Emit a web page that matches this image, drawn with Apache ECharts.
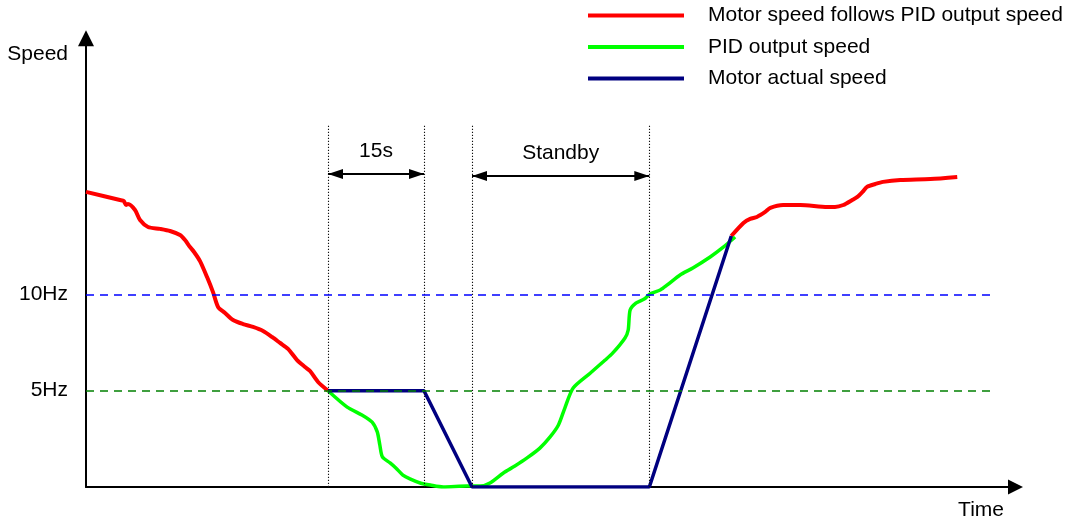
<!DOCTYPE html>
<html>
<head>
<meta charset="utf-8">
<script src="https://cdn.jsdelivr.net/npm/echarts@6/dist/echarts.min.js"></script>
<style>html,body{margin:0;padding:0;background:#fff;}#c{width:1076px;height:517px;}</style>
</head>
<body>
<div id="c"></div>
<script>
// ---- data (time in s, speed in Hz) ----
const seriesNames = ['Motor speed follows PID output speed', 'PID output speed', 'Motor actual speed'];
const seriesColors = ['#ff0000', '#00ff00', '#000080'];

const followBefore = [[0,15.32],[5.3,14.9],[5.9,14.85],[6.25,14.64],[6.56,14.69],[7.66,14.38],[8.44,13.86],[9.69,13.5],[11.56,13.4],[13.13,13.29],[14.69,13.08],[15.47,12.82],[16.25,12.46],[16.88,12.2],[17.81,11.73],[18.91,10.9],[19.84,10.12],[20.63,9.35],[21.72,9.03],[22.97,8.67],[24.53,8.46],[26.09,8.31],[27.66,8.1],[29.06,7.79],[30.31,7.48],[31.56,7.17],[32.97,6.59],[34.22,6.23],[35.0,6.02],[36.25,5.45],[37.8,5.0]];
const followAfter = [[100.8,13.03],[102.7,13.71],[103.75,13.92],[104.8,14.02],[106.1,14.28],[106.9,14.49],[108.9,14.64],[111.6,14.64],[115.8,14.54],[117.0,14.54],[118.3,14.64],[119.7,14.9],[120.5,15.06],[121.3,15.32],[122.0,15.58],[123.3,15.73],[124.5,15.84],[127.2,15.94],[131.9,15.99],[136.1,16.1]];
const pidOutput = [[37.8,5.0],[40.8,4.15],[43.1,3.74],[44.7,3.37],[45.5,2.86],[45.9,2.18],[46.3,1.56],[47.5,1.25],[48.4,0.99],[49.5,0.62],[50.6,0.42],[52.2,0.21],[53.8,0.1],[55.8,0.0],[59.5,0.05],[61.6,0.05],[63.1,0.21],[65.2,0.73],[67.0,1.09],[68.9,1.51],[70.9,2.02],[72.5,2.6],[73.8,3.22],[74.8,4.1],[76.1,5.14],[78.8,5.92],[81.1,6.59],[82.3,6.96],[84.2,7.74],[84.7,8.15],[85.0,9.19],[85.9,9.55],[87.2,9.76],[88.1,10.02],[89.7,10.23],[90.8,10.49],[92.8,11.01],[94.8,11.37],[97.5,11.94],[99.4,12.41],[101.4,12.98]];
const motorActual = [[37.8,5.0],[52.8,5.0],[60.3,0.0],[88.0,0.0],[100.8,13.03]];

const refLevels = [10, 5];
const refLabels = ['10Hz', '5Hz'];
const refColors = ['#0000ff', '#008000'];
const refEnd = 141.25;
const markerTimes = [37.8, 52.8, 60.3, 88.0];
const markerTop = 18.8;
const spans = [
  {label: '15s', from: 37.8, to: 52.8, level: 16.25},
  {label: 'Standby', from: 60.3, to: 88.0, level: 16.15}
];
const xMax = 145.2, yMax = 23.3;

const FONT = '"Liberation Sans", Arial, sans-serif';
const chart = echarts.init(document.getElementById('c'), null, {renderer: 'canvas'});

const guideLines = [];
markerTimes.forEach(t => guideLines.push([{coord: [t, 0], lineStyle: {color: '#111', width: 1.1, type: [1.2, 1.8]}}, {coord: [t, markerTop]}]));
refLevels.forEach((v, i) => guideLines.push([{coord: [0, v], lineStyle: {color: refColors[i], width: 1.6, type: [8, 6]}}, {coord: [refEnd, v]}]));

const spanLines = spans.map(s => [{coord: [s.from, s.level], name: s.label}, {coord: [s.to, s.level]}]);

function lineSeries(name, data, color, width) {
  return {
    type: 'line', name: name, data: data, showSymbol: false, symbol: 'none', smooth: 0.25,
    lineStyle: {color: color, width: width}, itemStyle: {color: color}, silent: true
  };
}

chart.setOption({
  animation: false,
  backgroundColor: '#fff',
  textStyle: {fontFamily: FONT},
  grid: {left: 86, right: 60.5, top: 38.2, bottom: 30, containLabel: false, outerBoundsMode: 'none'},
  legend: {
    data: seriesNames, orient: 'vertical', left: 588, top: 5, itemGap: 10.5, padding: 0,
    icon: 'rect', itemWidth: 96, itemHeight: 4, selectedMode: false,
    textStyle: {fontSize: 21, color: '#000', fontFamily: FONT, padding: [0, 0, 0, 19]}
  },
  xAxis: {
    type: 'value', min: 0, max: xMax,
    name: 'Time', nameLocation: 'end', nameGap: -11.5,
    nameTextStyle: {fontSize: 21, color: '#000', fontFamily: FONT, align: 'right', verticalAlign: 'top', padding: [13, 0, 0, 0]},
    axisLine: {lineStyle: {color: '#000', width: 2}, symbol: ['none', 'triangle'], symbolSize: [15, 15]},
    axisTick: {show: false}, axisLabel: {show: false}, splitLine: {show: false}
  },
  yAxis: {
    type: 'value', min: 0, max: yMax, interval: 5,
    name: 'Speed', nameLocation: 'end', nameGap: -16,
    nameTextStyle: {fontSize: 21, color: '#000', fontFamily: FONT, align: 'right', verticalAlign: 'middle', padding: [0, 18, 0, 0]},
    axisLine: {show: true, lineStyle: {color: '#000', width: 2}, symbol: ['none', 'triangle'], symbolSize: [16, 16]},
    axisTick: {show: false}, splitLine: {show: false},
    axisLabel: {
      fontSize: 21, color: '#000', fontFamily: FONT, margin: 18,
      formatter: v => { const i = refLevels.indexOf(v); return i >= 0 ? refLabels[i] : ''; }
    }
  },
  series: [
    {type: 'line', name: 'guides', data: [], silent: true,
     markLine: {silent: true, symbol: ['none', 'none'], label: {show: false}, data: guideLines, animation: false}},
    {type: 'line', name: 'spans', data: [], silent: true,
     markLine: {silent: true, symbol: ['triangle', 'triangle'], symbolSize: [10, 15], symbolOffset: [[0, 7.5], [0, 7.5]],
       lineStyle: {color: '#000', width: 2, type: 'solid'},
       label: {show: true, position: 'insideMiddleTop', distance: 12, formatter: '{b}', fontSize: 21, color: '#000', fontFamily: FONT},
       data: spanLines, animation: false}},
    lineSeries(seriesNames[0], followBefore, seriesColors[0], 4),
    lineSeries(seriesNames[0], followAfter, seriesColors[0], 4),
    lineSeries(seriesNames[1], pidOutput, seriesColors[1], 3.5),
    Object.assign(lineSeries(seriesNames[2], motorActual, seriesColors[2], 3.5), {smooth: false})
  ]
});
</script>
</body>
</html>
